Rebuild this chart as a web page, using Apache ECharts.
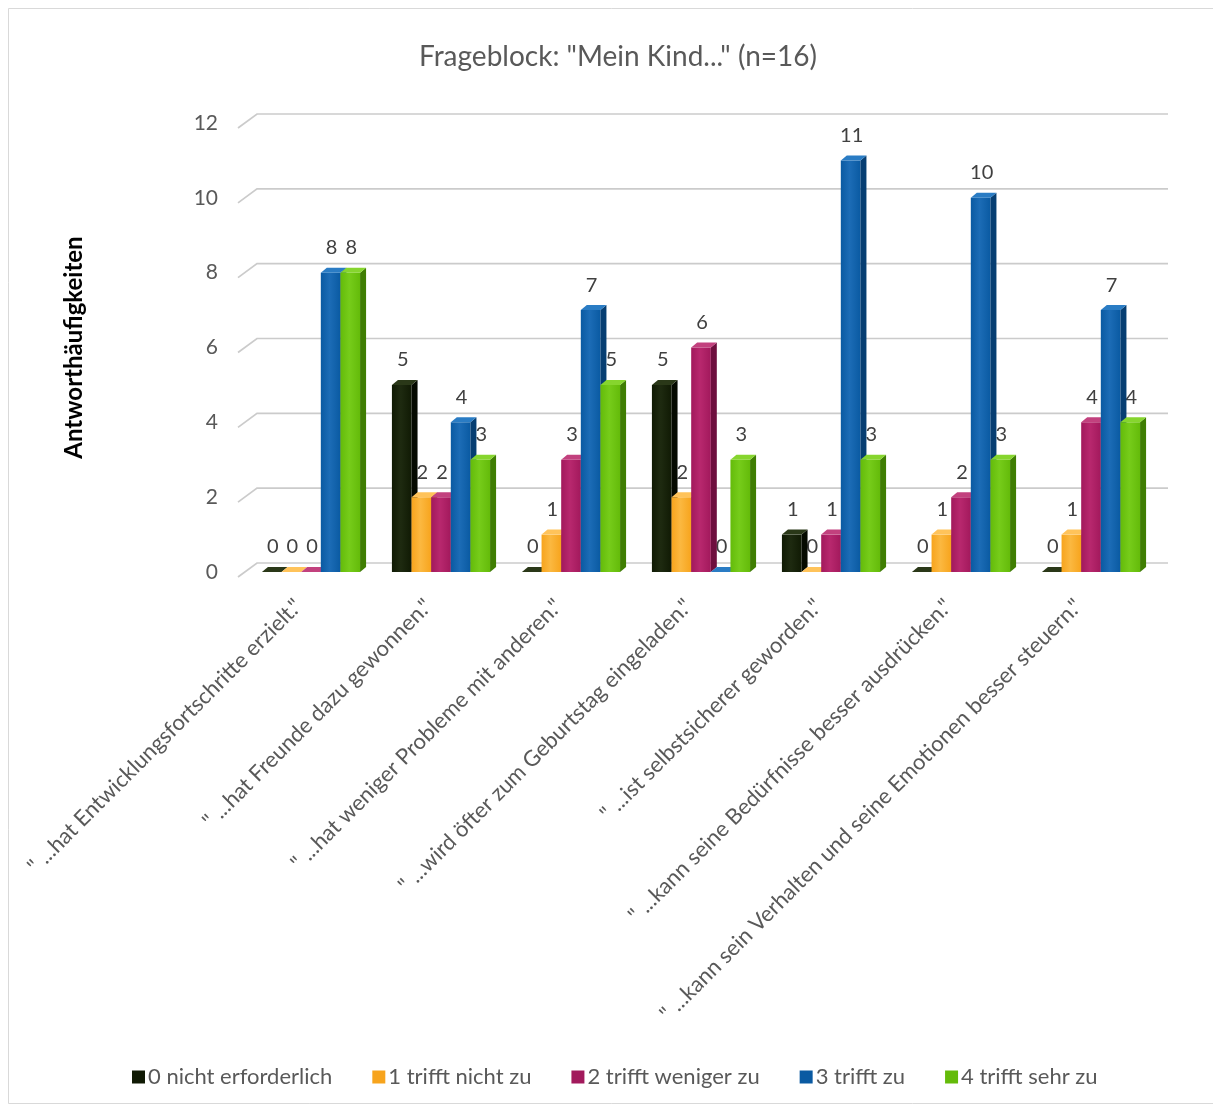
<!DOCTYPE html>
<html>
<head>
<meta charset="utf-8">
<script src="https://cdn.jsdelivr.net/npm/echarts@6/dist/echarts.min.js"></script>
<style>
html,body{margin:0;padding:0;background:#fff;}
#chart{width:1213px;height:1108px;}
</style>
</head>
<body>
<div id="chart"></div>
<script>
const categories = [
  '" ...hat Entwicklungsfortschritte erzielt."',
  '" ...hat Freunde dazu gewonnen."',
  '" ...hat weniger Probleme mit anderen."',
  '" ...wird öfter zum Geburtstag eingeladen."',
  '" ...ist selbstsicherer geworden."',
  '" ...kann seine Bedürfnisse besser ausdrücken."',
  '" ...kann sein Verhalten und seine Emotionen besser steuern."'
];
const seriesNames = ['0 nicht erforderlich', '1 trifft nicht zu', '2 trifft weniger zu', '3 trifft zu', '4 trifft sehr zu'];
const s0 = [0, 5, 0, 5, 1, 0, 0];
const s1 = [0, 2, 1, 2, 0, 1, 1];
const s2 = [0, 2, 3, 6, 1, 2, 4];
const s3 = [8, 4, 7, 0, 11, 10, 7];
const s4 = [8, 3, 5, 3, 3, 3, 4];
const yTicks = [0, 2, 4, 6, 8, 10, 12];

const seriesValues = [s0, s1, s2, s3, s4];
const baseColors = ['#101a04', '#f7a41d', '#a2195c', '#0a5aa2', '#64bb0a'];
const lightColors = ['#1e2a10', '#fbb840', '#b8286e', '#1c6cb6', '#76cc1a'];
const sideColors = ['#050a00', '#c47d0c', '#6e0f3e', '#063e72', '#3f7d03'];
const topColors = ['#2a3818', '#ffc35a', '#c2417e', '#2a7cc4', '#86d52e'];
const FONT = 'Lato, "Open Sans", sans-serif';
const DX = 6, DY = 5;

function barX(api, cat, s) {
  const base = api.coord([cat, 0]);
  const band = api.size([1, 0])[0];
  const bw = band * 0.151;
  return { x0: base[0] - 2.5 * bw + s * bw, bw: bw, yb: base[1] };
}

const series = [];
// back-wall gridlines
series.push({
  type: 'custom',
  name: 'grid',
  silent: true,
  z: 0,
  data: yTicks.map(v => [0, v]),
  renderItem: function (params, api) {
    const cs = params.coordSys;
    const y = api.coord([0, api.value(1)])[1];
    return {
      type: 'polyline',
      shape: { points: [[cs.x - 8, y + 5], [cs.x + 11, y - 9], [cs.x + cs.width + 12, y - 9]] },
      style: { stroke: '#cbcbcb', lineWidth: 1.7, fill: null }
    };
  }
});
// labels (drawn behind bars)
seriesValues.forEach((vals, s) => {
  series.push({
    type: 'custom',
    name: 'lbl' + s,
    silent: true,
    z: 1,
    data: vals.map((v, i) => [i, v]),
    renderItem: function (params, api) {
      const cat = api.value(0), val = api.value(1);
      const g = barX(api, cat, s);
      const top = api.coord([cat, val])[1];
      return {
        type: 'text',
        style: {
          text: String(val), x: g.x0 + g.bw / 2 + 1, y: top - 25,
          align: 'center', verticalAlign: 'middle',
          fill: '#404040', fontSize: 20, fontFamily: FONT
        }
      };
    }
  });
});
// 3D bars
seriesValues.forEach((vals, s) => {
  series.push({
    type: 'custom',
    name: seriesNames[s],
    z: 2,
    itemStyle: { color: baseColors[s] },
    data: vals.map((v, i) => [i, v]),
    renderItem: function (params, api) {
      const cat = api.value(0), val = api.value(1);
      const g = barX(api, cat, s);
      const yt = api.coord([cat, val])[1];
      const x0 = g.x0, x1 = g.x0 + g.bw, yb = g.yb;
      const children = [];
      if (yb - yt > 0.5) {
        children.push({
          type: 'rect',
          shape: { x: x0, y: yt, width: g.bw, height: yb - yt },
          style: {
            fill: new echarts.graphic.LinearGradient(0, 0, 1, 0, [
              { offset: 0, color: baseColors[s] },
              { offset: 0.45, color: lightColors[s] },
              { offset: 1, color: baseColors[s] }
            ])
          }
        });
      }
      children.push({
        type: 'polygon',
        shape: { points: [[x1, yt], [x1 + DX, yt - DY], [x1 + DX, yb - DY], [x1, yb]] },
        style: { fill: sideColors[s] }
      });
      children.push({
        type: 'polygon',
        shape: { points: [[x0, yt], [x0 + DX, yt - DY], [x1 + DX, yt - DY], [x1, yt]] },
        style: { fill: topColors[s] }
      });
      return { type: 'group', children: children };
    }
  });
});

const chart = echarts.init(document.getElementById('chart'), null, { renderer: 'canvas' });
chart.setOption({
  backgroundColor: '#ffffff',
  animation: false,
  title: {
    text: 'Frageblock: "Mein Kind..." (n=16)',
    left: 414, top: 38,
    textStyle: { fontFamily: FONT, fontSize: 28, fontWeight: 'normal', color: '#595959' }
  },
  graphic: [{
    type: 'rect', silent: true, z: -1,
    shape: { x: 8.5, y: 8.5, width: 1220, height: 1095 },
    style: { fill: null, stroke: '#d9d9d9', lineWidth: 1 }
  }],
  legend: {
    data: seriesNames,
    bottom: 15,
    left: 127,
    icon: 'rect',
    itemWidth: 13, itemHeight: 13, itemGap: 40,
    textStyle: { fontFamily: FONT, fontSize: 22, color: '#595959', padding: [0, 0, 0, -2] }
  },
  grid: { left: 246, right: 57, top: 123, bottom: 536 },
  xAxis: {
    type: 'category',
    data: categories,
    axisLine: { show: false },
    axisTick: { show: false },
    axisLabel: {
      interval: 0, rotate: 45, margin: 18,
      fontFamily: FONT, fontSize: 22, color: '#595959',
      padding: [0, 18, 0, 0]
    }
  },
  yAxis: {
    type: 'value',
    min: 0, max: 12, interval: 2,
    name: 'Antworthäufigkeiten',
    nameLocation: 'middle',
    nameRotate: 90,
    nameGap: 160,
    nameTextStyle: { fontFamily: FONT, fontSize: 24, fontWeight: 'bold', color: '#000000' },
    axisLine: { show: false },
    axisTick: { show: false },
    splitLine: { show: false },
    axisLabel: { margin: 28, fontFamily: FONT, fontSize: 21, color: '#595959', padding: [8, 0, 0, 0] }
  },
  series: series
});
</script>
</body>
</html>
